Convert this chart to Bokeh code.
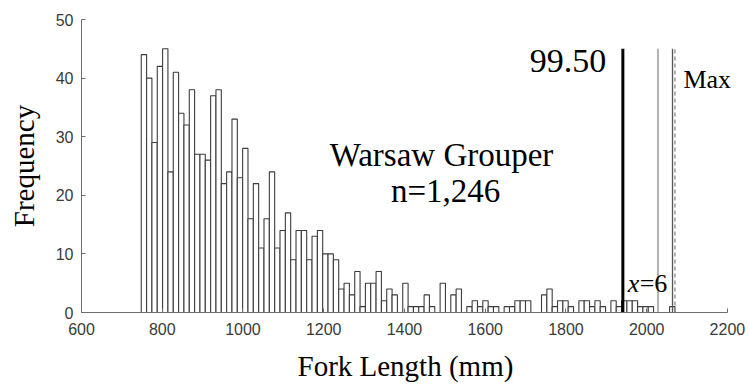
from bokeh.plotting import figure
from bokeh.models import Label, FixedTicker, Title
from bokeh.embed import file_html
from bokeh.resources import INLINE

# ---- data ----
bin_min = 748.0      # smallest fork length (mm)
bin_max = 2070.0     # largest fork length (mm)
n_bins = 100
counts = [44, 40, 29, 42, 45, 24, 41, 34, 32, 38,
          27, 27, 26, 37, 38, 22, 24, 33, 23, 28,
          16, 22, 11, 16, 24, 11, 14, 17, 9, 14,
          14, 9, 13, 14, 10, 10, 9, 4, 5, 3,
          7, 1, 5, 5, 7, 2, 4, 3, 0, 5,
          1, 1, 1, 3, 1, 0, 5, 0, 3, 4,
          0, 1, 2, 1, 2, 1, 1, 0, 1, 1,
          2, 2, 2, 0, 0, 3, 4, 1, 2, 2,
          1, 0, 2, 2, 1, 2, 1, 0, 2, 1,
          2, 2, 2, 1, 1, 1, 0, 0, 0, 1]
ref_lines = [1941, 2028, 2064, 2070]   # 99.50 percentile, two reference lengths, max
ref_top = 45
x_ticks = [600, 800, 1000, 1200, 1400, 1600, 1800, 2000, 2200]
y_ticks = [0, 10, 20, 30, 40, 50]

width = (bin_max - bin_min) / n_bins
lefts = [bin_min + i * width for i in range(n_bins)]
rights = [l + width for l in lefts]

p = figure(width=749, height=392, output_backend="svg", toolbar_location=None,
           x_range=(600, 2254.7), y_range=(0, 50),
           min_border_left=81, min_border_right=0, min_border_top=19, min_border_bottom=80)
p.outline_line_color = None
p.xgrid.visible = False
p.ygrid.visible = False
p.background_fill_color = "white"

p.quad(left=lefts, right=rights, bottom=0, top=counts,
       fill_color="white", line_color="#3c3c3c", line_width=1.1)

serif = "Liberation Serif"
sans = "Liberation Sans"

# vertical reference lines
p.segment(x0=[ref_lines[0]], x1=[ref_lines[0]], y0=[0], y1=[ref_top], line_color="black", line_width=3)
p.segment(x0=[ref_lines[1]], x1=[ref_lines[1]], y0=[0], y1=[ref_top], line_color="#8a8a8a", line_width=1.3)
p.segment(x0=[ref_lines[2]], x1=[ref_lines[2]], y0=[0], y1=[ref_top], line_color="#555555", line_width=1.3)
p.segment(x0=[ref_lines[3]], x1=[ref_lines[3]], y0=[0], y1=[ref_top], line_color="#8a8a8a", line_width=1.3,
          line_dash="4 3")

for ax in (p.xaxis, p.yaxis):
    ax.axis_line_color = "#6e6e6e"
    ax.major_tick_line_color = "#6e6e6e"
    ax.major_tick_in = 4
    ax.major_tick_out = 0
    ax.minor_tick_line_color = None
    ax.major_label_text_font = sans
    ax.major_label_text_font_size = "16px"
    ax.major_label_text_color = "#3a3a3a"
    ax.axis_label_text_font = serif
    ax.axis_label_text_font_size = "29px"
    ax.axis_label_text_font_style = "normal"
    ax.axis_label_text_color = "black"

p.xaxis.bounds = (600, 2200)
p.xaxis.ticker = FixedTicker(ticks=x_ticks)
p.yaxis.ticker = FixedTicker(ticks=y_ticks)
p.yaxis.axis_label = "Frequency"
p.xaxis.major_label_standoff = 10
p.yaxis.major_label_standoff = 8
p.yaxis.axis_label_standoff = 13

xlab = Title(text="Fork Length (mm)", align="left", offset=216, text_font=serif,
             text_font_size="29px", text_font_style="normal", text_color="black", standoff=21)
p.add_layout(xlab, "below")

p.add_layout(Label(x=1900, y=43.0, text="99.50", text_font=serif, text_font_size="34px",
                   text_align="right", text_baseline="alphabetic", text_color="black"))
p.add_layout(Label(x=2091, y=39.8, text="Max", text_font=serif, text_font_size="26px",
                   text_align="left", text_baseline="alphabetic", text_color="black"))
p.add_layout(Label(x=1502, y=26.8, text="Warsaw  Grouper", text_font=serif, text_font_size="33px",
                   text_align="center", text_baseline="middle", text_color="black"))
p.add_layout(Label(x=1502, y=20.8, text="n=1,246", text_font=serif, text_font_size="33px",
                   text_align="center", text_baseline="middle", text_color="black"))
p.add_layout(Label(x=1953, y=5.0, text="x", text_font=serif, text_font_size="26px",
                   text_font_style="italic", text_align="left", text_baseline="alphabetic",
                   text_color="black"))
p.add_layout(Label(x=1953, y=5.0, x_offset=12, text="=6", text_font=serif, text_font_size="26px",
                   text_align="left", text_baseline="alphabetic", text_color="black"))

open("out.html", "w").write(file_html(p, INLINE))
